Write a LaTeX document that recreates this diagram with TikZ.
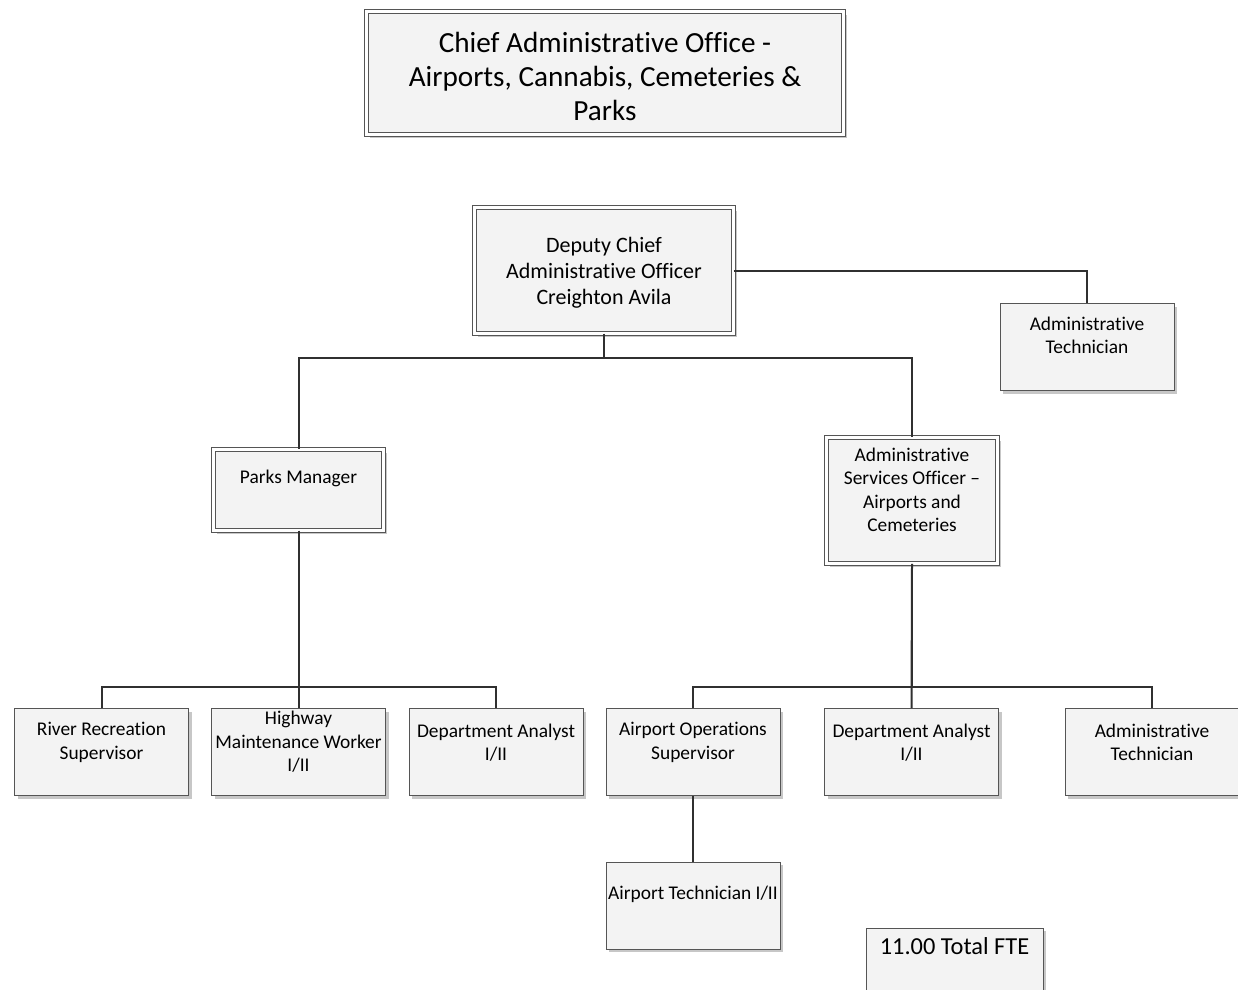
\documentclass[tikz,border=0pt]{standalone}
\usepackage{fontspec}
\setmainfont{Carlito}[Ligatures=NoCommon]
\usetikzlibrary{calc,shadows}
\definecolor{edge}{HTML}{555555}
\definecolor{wire}{HTML}{303030}
\definecolor{boxfill}{HTML}{F3F3F3}
\tikzset{
  unit/.style={draw=edge, line width=1pt, fill=boxfill, inner sep=0pt,
    drop shadow={shadow xshift=3pt, shadow yshift=-3pt, fill=black!22, opacity=1}},
  single/.style={unit, minimum width=174pt, minimum height=87pt},
  dbl/.style={unit, double=white, double distance=3.6pt, line width=0.8pt},
  lbl/.style={align=center, inner sep=0pt, font=\fontsize{19.4}{23.5}\selectfont},
  wirestyle/.style={draw=wire, line width=2pt}
}
\begin{document}
\begin{tikzpicture}[x=1pt,y=-1pt]
\useasboundingbox (0,0) rectangle (1238,989);

% head of the department
\node[dbl, minimum width=477pt, minimum height=123pt] (cao) at (605,73) {};

% deputy and direct reports
\node[dbl, minimum width=259pt, minimum height=126pt] (dep) at (604,270.5) {};
\node[single] (tech1) at (1087,347) {};
\node[dbl, minimum width=170pt, minimum height=81pt] (pm) at (298.5,490) {};
\node[dbl, minimum width=171pt, minimum height=126pt] (aso) at (912,500.5) {};

% staff positions
\node[single] (rr)  at (101.5,752) {};
\node[single] (hw)  at (298.5,752) {};
\node[single] (da1) at (496,752) {};
\node[single] (aos) at (693,752) {};
\node[single] (da2) at (911.5,752) {};
\node[single] (tech2) at (1152,752) {};
\node[single] (atec) at (693,905.5) {};
\node[single, minimum width=177pt, minimum height=90pt] (fte) at (954.5,973) {};

% position titles
\node[lbl, font=\fontsize{29.2}{34}\selectfont] at ($(cao.center)+(0,3)$)
  {Chief Administrative Office -\\Airports, Cannabis, Cemeteries \&\\Parks};
\node[lbl, font=\fontsize{22}{26}\selectfont] at ($(dep.center)+(0,2)$)
  {Deputy Chief\\Administrative Officer\\Creighton Avila};
\node[lbl] at ($(tech1.north)+(0,32.5)$) {Administrative\\Technician};
\node[lbl] at ($(pm.north)+(0,29.5)$) {Parks Manager};
\node[lbl] at ($(aso.north)+(0,52.5)$) {Administrative\\Services Officer –\\Airports and\\Cemeteries};
\node[lbl] at ($(rr.north)+(0,34.5)$) {River Recreation\\Supervisor};
\node[lbl] at ($(hw.north)+(0,34)$) {Highway\\Maintenance Worker\\I/II};
\node[lbl] at ($(da1.north)+(0,34.5)$) {Department Analyst\\I/II};
\node[lbl] at ($(aos.north)+(0,34.5)$) {Airport Operations\\Supervisor};
\node[lbl] at ($(da2.north)+(0,34.5)$) {Department Analyst\\I/II};
\node[lbl] at ($(tech2.north)+(0,34.5)$) {Administrative\\Technician};
\node[lbl] at ($(atec.north)+(0,32.5)$) {Airport Technician I/II};
\node[lbl, font=\fontsize{24.4}{28}\selectfont] at ($(fte.north)+(0,19)$) {11.00 Total FTE};

% reporting lines
\draw[wirestyle] (dep.east) -| (tech1.north);
\draw[wirestyle] (dep.south) -- ++(0,24.5) -| (pm.north);
\draw[wirestyle] (dep.south) -- ++(0,24.5) -| (aso.north);
\draw[wirestyle] (pm.south) -- ++(0,156.5) -| (rr.north);
\draw[wirestyle] (pm.south) -- (hw.north);
\draw[wirestyle] (pm.south) -- ++(0,156.5) -| (da1.north);
\draw[wirestyle] (aso.south) -- ++(0,123.5) -| (aos.north);
\draw[wirestyle] (aso.south) -- (da2.north);
\draw[wirestyle] (aso.south) -- ++(0,123.5) -| (tech2.north);
\draw[wirestyle] (aos.south) -- (atec.north);
\end{tikzpicture}
\end{document}
